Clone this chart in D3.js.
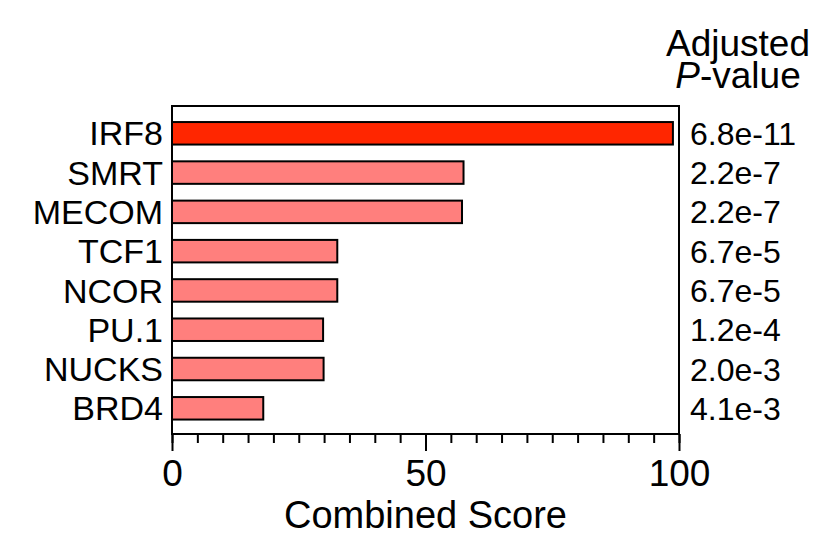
<!DOCTYPE html>
<html>
<head>
<meta charset="utf-8">
<script src="https://cdn.jsdelivr.net/npm/d3@7"></script>
<style>
  html, body { margin: 0; padding: 0; background: #fff; }
  svg { display: block; font-family: "Liberation Sans", Arial, Helvetica, sans-serif; }
</style>
</head>
<body>
<svg id="chart" width="825" height="557"></svg>
<script>
// ---- data ----
const categories = ["IRF8", "SMRT", "MECOM", "TCF1", "NCOR", "PU.1", "NUCKS", "BRD4"];
const scores     = [98.8, 57.5, 57.2, 32.6, 32.6, 29.8, 29.9, 18.0];
const pvalues    = ["6.8e-11", "2.2e-7", "2.2e-7", "6.7e-5", "6.7e-5", "1.2e-4", "2.0e-3", "4.1e-3"];
const xTickValues = [0, 50, 100];

const svg = d3.select("#chart");
const frame = {left: 172, right: 679, top: 106, bottom: 434};

const x = d3.scaleLinear().domain([0, 100]).range([frame.left, frame.right]);
const y = d3.scalePoint().domain(categories).range([133.3, 408.3]);
const barH = 22.5;

// frame
svg.append("rect")
  .attr("x", frame.left).attr("y", frame.top)
  .attr("width", frame.right - frame.left).attr("height", frame.bottom - frame.top)
  .attr("fill", "none").attr("stroke", "#000").attr("stroke-width", 2);

// bars
svg.append("g").selectAll("rect")
  .data(categories)
  .join("rect")
  .attr("x", x(0))
  .attr("y", d => y(d) - barH / 2)
  .attr("width", (d, i) => x(scores[i]) - x(0))
  .attr("height", barH)
  .attr("fill", (d, i) => i === 0 ? "#ff2600" : "#ff7f7d")
  .attr("stroke", "#000")
  .attr("stroke-width", 2);

// category labels
svg.append("g").selectAll("text")
  .data(categories)
  .join("text")
  .attr("x", 163)
  .attr("y", d => y(d))
  .attr("dy", "0.355em")
  .attr("text-anchor", "end")
  .attr("font-size", 34)
  .attr("fill", "#000")
  .text(d => d);

// p-value labels
svg.append("g").selectAll("text")
  .data(categories)
  .join("text")
  .attr("x", 690)
  .attr("y", d => y(d))
  .attr("dy", "0.36em")
  .attr("text-anchor", "start")
  .attr("font-size", 32)
  .attr("fill", "#000")
  .text((d, i) => pvalues[i]);

// p-value header
const head = svg.append("text")
  .attr("x", 738).attr("text-anchor", "middle")
  .attr("font-size", 37).attr("fill", "#000");
head.append("tspan").attr("x", 738).attr("y", 56).text("Adjusted");
const l2 = head.append("tspan").attr("x", 738).attr("y", 88);
l2.append("tspan").attr("font-style", "italic").text("P");
l2.append("tspan").text("-value");

// x axis: minor ticks
const axis = svg.append("g").attr("transform", `translate(0,${frame.bottom})`);
axis.call(d3.axisBottom(x).tickValues(d3.range(0, 101, 5)).tickSize(9).tickFormat(""))
  .call(g => g.select(".domain").remove())
  .call(g => g.selectAll("line").attr("stroke", "#000").attr("stroke-width", 2));

// major ticks + labels
const axisMajor = svg.append("g").attr("transform", `translate(0,${frame.bottom})`);
axisMajor.call(d3.axisBottom(x).tickValues(xTickValues).tickSize(17).tickPadding(10).tickFormat(d3.format("d")))
  .call(g => g.select(".domain").remove())
  .call(g => g.selectAll("line").attr("stroke", "#000").attr("stroke-width", 2))
  .call(g => g.selectAll("text")
    .attr("font-size", 37)
    .attr("font-family", "'Liberation Sans', Arial, sans-serif")
    .attr("fill", "#000")
    .attr("dy", null)
    .attr("y", 52));

// axis title
svg.append("text")
  .attr("x", (frame.left + frame.right) / 2)
  .attr("y", 528)
  .attr("text-anchor", "middle")
  .attr("font-size", 38)
  .attr("fill", "#000")
  .text("Combined Score");
</script>
</body>
</html>
